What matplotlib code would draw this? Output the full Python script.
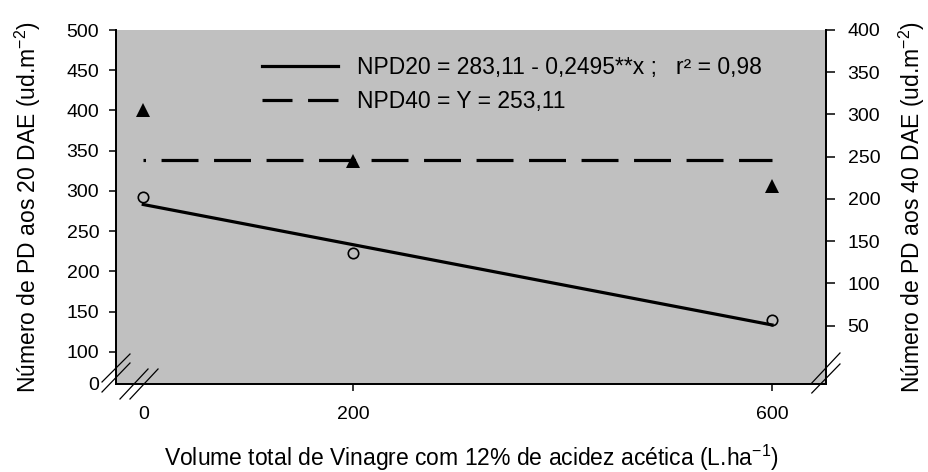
import matplotlib
matplotlib.use("Agg")
import matplotlib.pyplot as plt
from matplotlib.lines import Line2D

plt.rcParams['font.family'] = ['Liberation Sans', 'DejaVu Sans']
plt.rcParams['lines.scale_dashes'] = False
plt.rcParams['mathtext.fontset'] = 'custom'
plt.rcParams['mathtext.rm'] = 'Liberation Sans'

# Data
volume = [0, 200, 600]
npd20 = [292, 223, 139]          # left axis, circles
npd40 = [305, 245, 215]          # right axis, triangles
npd20_fit = [283.11, 283.11 - 0.2495 * 600]   # fitted line at x = 0 and 600
npd40_mean = 246

left_ticks = [60, 100, 150, 200, 250, 300, 350, 400, 450, 500]
left_labels = ['0', '100', '150', '200', '250', '300', '350', '400', '450', '500']
right_ticks = [50, 100, 150, 200, 250, 300, 350, 400]
x_ticks = [0, 200, 600]

label_20 = "NPD20 = 283,11 - 0,2495**x ;   r² = 0,98"
label_40 = "NPD40 = Y = 253,11"

gray = '#c0c0c0'
W, H = 929, 472

fig = plt.figure(figsize=(W / 100, H / 100), dpi=100)
fig.subplots_adjust(left=116 / W, right=826 / W, top=1 - 30 / H, bottom=1 - 384 / H)
ax = fig.add_subplot(111)
ax.set_facecolor(gray)
ax2 = ax.twinx()

# NPD20 on the left axis
ax.plot([volume[0], volume[-1]], npd20_fit, color='black', lw=2.3, zorder=3)
ax.plot(volume, npd20, 'o', ms=7.5, mfc='none', mec='black', mew=1.2, zorder=4)

# NPD40 on the right axis
ax2.plot([volume[0], volume[-1]], [npd40_mean, npd40_mean], color='black', lw=2.3,
         linestyle=(24.8, (26.6, 11.2)), zorder=3)
ax2.plot(volume, npd40, '^', ms=9.5, color='black', mew=0, zorder=4)

ax.set_xlim(-26, 651.5)
ax.set_ylim(60, 500)
ax2.set_ylim(-19, 400)

ax.set_xticks(x_ticks)
ax.set_yticks(left_ticks)
ax.set_yticklabels(left_labels)
ax2.set_yticks(right_ticks)

ax.tick_params(axis='both', direction='out', length=5, width=1.1, labelsize=14, colors='black')
ax.tick_params(axis='y', pad=7)
ax.tick_params(axis='x', pad=11)
ax2.tick_params(axis='y', direction='out', length=6.5, width=1.1, labelsize=14, pad=9)
ax.xaxis.get_major_ticks()[0].tick1line.set_visible(False)
ax.yaxis.get_major_ticks()[0].tick1line.set_visible(False)

for a in (ax, ax2):
    a.spines['top'].set_visible(False)
    for s in ('left', 'right', 'bottom'):
        a.spines[s].set_linewidth(1.3)

ax.set_ylabel("Número de PD aos 20 DAE (ud.m$^{\\mathregular{-2}}$)", fontsize=16.5, labelpad=17)
ax2.set_ylabel("Número de PD aos 40 DAE (ud.m$^{\\mathregular{-2}}$)", fontsize=16.5, labelpad=12)
ax.set_xlabel("Volume total de Vinagre com 12% de acidez acética (L.ha$^{\\mathregular{-1}}$)",
              fontsize=16.5, labelpad=14)

# legend
h20 = Line2D([], [], color='black', lw=2.3)
h40 = Line2D([], [], color='black', lw=2.3, linestyle=(5.0, (26.6, 11.2)))
ax.legend([h20, h40], [label_20, label_40], loc='upper left',
          bbox_to_anchor=(0.2056, 0.926), frameon=False, fontsize=16.5,
          handlelength=3.3, handletextpad=0.85, labelspacing=0.48,
          borderpad=0, borderaxespad=0)

# axis break marks
brk = dict(color='black', lw=0.9, transform=ax.transAxes, clip_on=False, zorder=10)
ax.plot([-0.0197, 0.0197], [0.0057, 0.0847], **brk)
ax.plot([-0.0197, 0.0197], [-0.0226, 0.0593], **brk)
ax.plot([0.0056, 0.0451], [-0.0424, 0.0424], **brk)
ax.plot([0.0197, 0.0592], [-0.0424, 0.0424], **brk)
ax.plot([0.980, 1.0197], [0.0028, 0.0876], **brk)
ax.plot([0.980, 1.0197], [-0.0254, 0.0565], **brk)

fig.savefig("out.png", dpi=100)
